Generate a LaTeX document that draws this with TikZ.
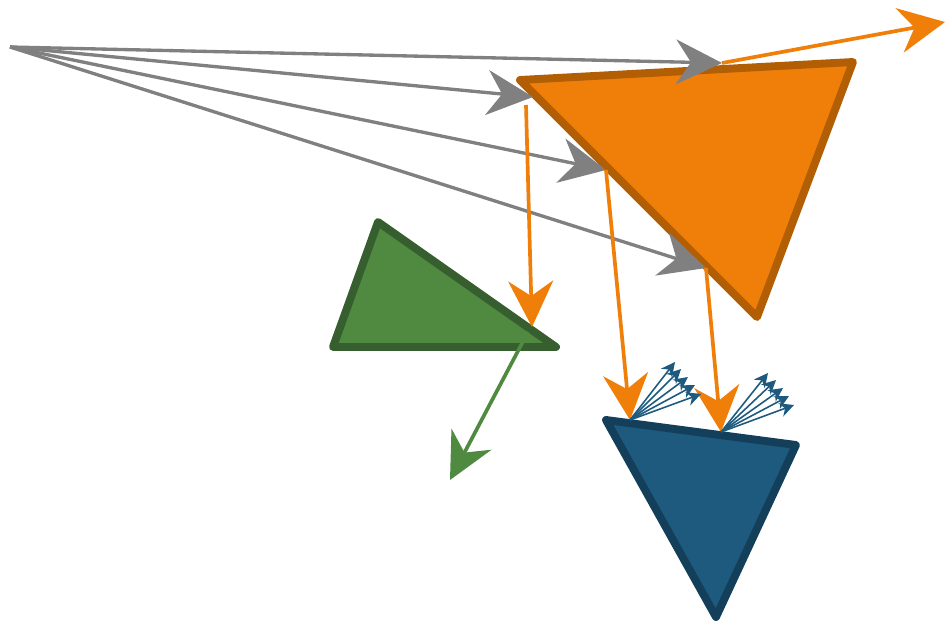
\documentclass[tikz,border=0pt]{standalone}
\usetikzlibrary{arrows.meta}
\definecolor{orfill}{HTML}{F07F0A}
\definecolor{ordraw}{HTML}{B25E04}
\definecolor{grfill}{HTML}{4F8A40}
\definecolor{grdraw}{HTML}{365E2E}
\definecolor{blfill}{HTML}{1D5A7D}
\definecolor{bldraw}{HTML}{133F5A}
\definecolor{arrgray}{HTML}{808080}

\begin{document}
\begin{tikzpicture}[
    x=0.02cm, y=-0.02cm,
    tri/.style={line width=4.5pt, line join=round},
    big/.style={-{Stealth[length=9.2mm, width=9mm, inset=3mm]}},
    grayarr/.style={big, draw=arrgray, line width=1.9pt},
    orarr/.style={big, draw=orfill, line width=2.1pt},
    grarr/.style={big, draw=grfill, line width=2.1pt},
    blarr/.style={-{Stealth[length=2.8mm, width=2.8mm, inset=0.9mm]}, draw=blfill, line width=0.9pt}
  ]
    \useasboundingbox (0,0) rectangle (948,626);
    % triangles
    \draw[tri, fill=orfill, draw=ordraw] (520,80) -- (853,62) -- (757,317) -- cycle;
    \draw[tri, fill=grfill, draw=grdraw] (378,222) -- (333,347) -- (556,347) -- cycle;
    \draw[tri, fill=blfill, draw=bldraw] (606,420) -- (796,445) -- (716,617) -- cycle;
    % points on the edges
    \coordinate (src) at (10,47);
    \coordinate (o1) at (722,63);
    \coordinate (o2) at (533,97);
    \coordinate (o3) at (606,170);
    \coordinate (o4) at (706,268);
    \coordinate (out) at (945,22);
    \coordinate (g1) at (532,327);
    \coordinate (gout) at (450,480);
    \coordinate (b1) at (630,420);
    \coordinate (b2) at (721,432);
    % gray arrows
    \foreach \t in {o1,o2,o3,o4}
      \draw[grayarr] (src) -- (\t);
    % orange arrows
    \draw[orarr] (o1) -- (out);
    \draw[orarr] (526,105) -- (g1);
    \draw[orarr] (o3) -- (b1);
    \draw[orarr] (o4) -- (b2);
    % green arrow
    \draw[grarr] (528,332) -- (gout);
    % blue fans
    \foreach \x/\y in {675/362,681/369,688/377,695/385,701/394}
      \draw[blarr] (b1) -- (\x,\y);
    \foreach \x/\y in {768/373,776/380,783/388,789/396,794/405}
      \draw[blarr] (b2) -- (\x,\y);
  \end{tikzpicture}
\end{document}
